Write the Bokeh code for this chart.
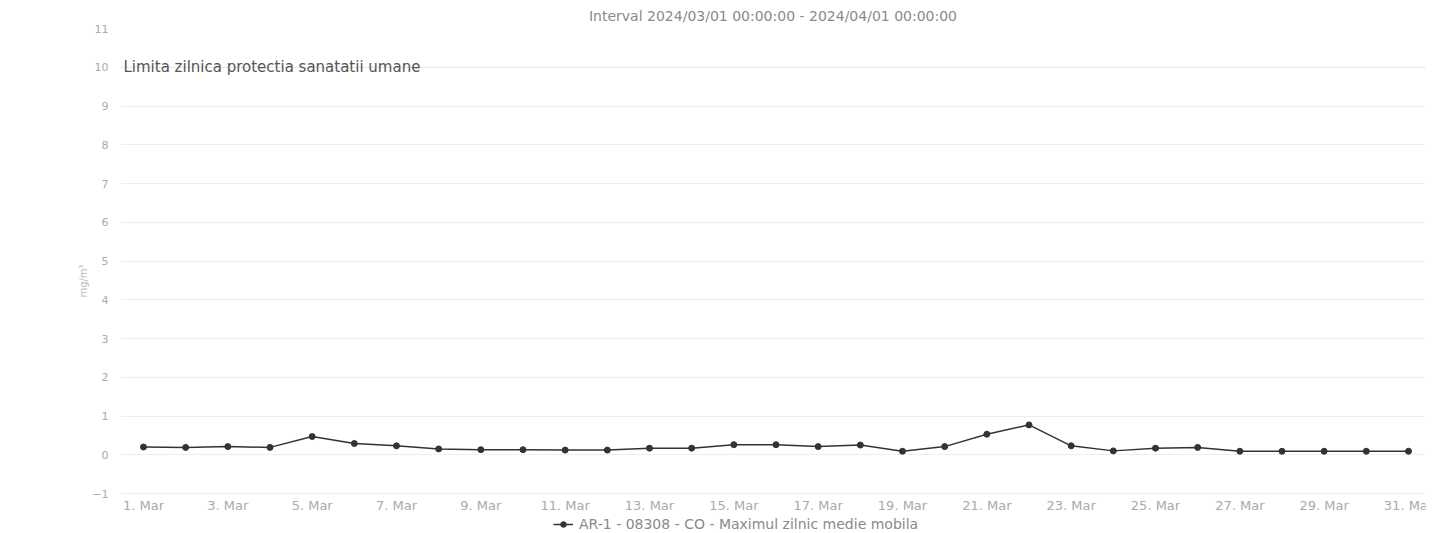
from bokeh.plotting import figure
from bokeh.models import Range1d, FixedTicker, Legend, LegendItem, Label, Span, ColumnDataSource
from bokeh.core.properties import value
from bokeh.embed import file_html
from bokeh.resources import INLINE

# ---- data ----
days = list(range(1, 32))
co_values = [0.20, 0.19, 0.21, 0.19, 0.47, 0.29, 0.23, 0.15, 0.13, 0.13,
             0.12, 0.12, 0.17, 0.17, 0.26, 0.26, 0.21, 0.25, 0.09, 0.21,
             0.53, 0.77, 0.23, 0.10, 0.17, 0.19, 0.09, 0.09, 0.09, 0.09, 0.09]
x_tick_days = list(range(1, 32, 2))
x_tick_labels = [f"{d}. Mar" for d in x_tick_days]
y_ticks = list(range(-1, 12))
limit_value = 10
limit_text = "Limita zilnica protectia sanatatii umane"
series_name = "AR-1 - 08308 - CO - Maximul zilnic medie mobila"
title_text = "Interval 2024/03/01 00:00:00 - 2024/04/01 00:00:00"
y_unit = "mg/m³"

FONT = "DejaVu Sans"
PX_PER_UNIT = 38.75          # vertical scale of the plot area (layout only)
Y_MIN, Y_MAX = -1, 11
bottom_room = 40 / PX_PER_UNIT   # room under -1 for the date labels and the legend

p = figure(width=1433, height=533, output_backend="svg", toolbar_location=None,
           x_range=Range1d(1 - 23 / 42.17, 31 + 17 / 42.17),
           y_range=Range1d(Y_MIN - bottom_room, Y_MAX),
           min_border_left=120, min_border_right=8, min_border_top=28, min_border_bottom=0,
           title=title_text)
p.outline_line_color = None
p.background_fill_color = "white"

p.title.align = "center"
p.title.text_font = FONT
p.title.text_font_size = "14px"
p.title.text_font_style = "normal"
p.title.text_color = "#8a8a8a"

# y axis
p.yaxis.ticker = FixedTicker(ticks=y_ticks)
yax = p.yaxis[0]
yax.axis_line_color = None
yax.major_tick_line_color = None
yax.minor_tick_line_color = None
yax.major_label_text_font = FONT
yax.major_label_text_color = "#aaaaaa"
yax.major_label_text_font_size = "11px"
yax.major_label_standoff = 6
yax.axis_label = y_unit
yax.axis_label_text_font = FONT
yax.axis_label_text_font_size = "10px"
yax.axis_label_text_font_style = "normal"
yax.axis_label_text_color = "#bbbbbb"
yax.axis_label_standoff = 0

# x axis: date labels drawn just under the -1 line
p.xaxis.visible = False
p.xgrid.grid_line_color = None
p.ygrid.grid_line_color = "#eeeeee"
p.ygrid.grid_line_width = 1

tick_src = ColumnDataSource(data=dict(x=x_tick_days, y=[Y_MIN - 12 / PX_PER_UNIT] * len(x_tick_days),
                                      t=x_tick_labels))
p.text("x", "y", text="t", source=tick_src, text_font=value(FONT), text_font_size="13px",
       text_color="#aaaaaa", text_align="center", text_baseline="middle")

# limit line
p.add_layout(Span(location=limit_value, dimension="width", line_color="#e8e8e8", line_width=1))
p.add_layout(Label(x=p.x_range.start + 0.07, y=limit_value, text=limit_text,
                   text_font=FONT, text_font_size="15px", text_color="#555555",
                   text_baseline="middle", text_align="left"))

src = ColumnDataSource(data=dict(x=days, y=co_values))
ln = p.line("x", "y", source=src, line_color="#333333", line_width=1.5)
mk = p.scatter("x", "y", source=src, size=6, fill_color="#333333", line_color="#333333")

legend = Legend(items=[LegendItem(label=series_name, renderers=[ln, mk])],
                location=(433, 1), orientation="horizontal",
                label_text_font=FONT, label_text_font_size="14px", label_text_color="#8a8a8a",
                border_line_color=None, background_fill_alpha=0, padding=0, margin=0,
                glyph_width=20, glyph_height=14, label_height=14, label_standoff=6)
p.add_layout(legend)

open("out.html", "w").write(file_html(p, INLINE))
